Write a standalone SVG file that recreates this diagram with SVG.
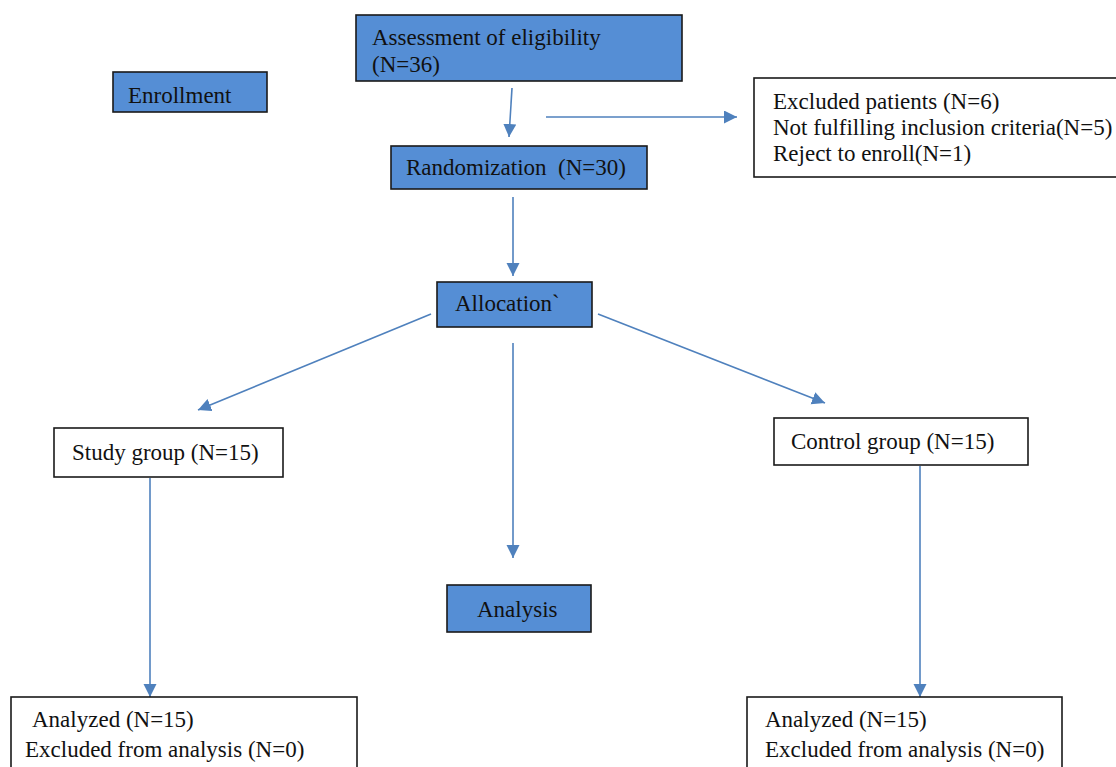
<svg xmlns="http://www.w3.org/2000/svg" width="1116" height="767" viewBox="0 0 1116 767">
<defs>
<style>
.blue{fill:#558ED5;stroke:#1a1a1a;stroke-width:1.6}
.white{fill:#ffffff;stroke:#1a1a1a;stroke-width:1.6}
.t{font-family:'Liberation Serif','DejaVu Serif',serif;font-size:23px;fill:#111}
.conn{stroke:#4F81BD;stroke-width:1.6;fill:none;marker-end:url(#arr)}
</style>
<marker id="arr" markerUnits="userSpaceOnUse" markerWidth="15" markerHeight="15" refX="13" refY="6.5" orient="auto">
<path d="M0,0 L13,6.5 L0,13 Z" fill="#4F81BD"/>
</marker>
</defs>
<rect width="1116" height="767" fill="#ffffff"/>
<g id="connectors">
<line class="conn" x1="512" y1="88" x2="509" y2="137"/>
<line class="conn" x1="546" y1="117" x2="737" y2="117"/>
<line class="conn" x1="513" y1="197" x2="513" y2="276"/>
<line class="conn" x1="431" y1="314" x2="198" y2="410"/>
<line class="conn" x1="513" y1="343" x2="513" y2="558"/>
<line class="conn" x1="598" y1="314" x2="825" y2="403"/>
<line class="conn" x1="150" y1="478" x2="150" y2="697"/>
<line class="conn" x1="920" y1="466" x2="920" y2="697"/>
</g>
<g id="enrollment">
<rect class="blue" x="113" y="72" width="154" height="40"/>
<text class="t" x="128" y="103">Enrollment</text>
</g>
<g id="assessment">
<rect class="blue" x="356" y="15" width="326" height="66"/>
<text class="t" x="372" y="45">Assessment of eligibility</text>
<text class="t" x="372" y="72">(N=36)</text>
</g>
<g id="excluded">
<rect class="white" x="754" y="78" width="380" height="99"/>
<text class="t" x="773" y="109">Excluded patients (N=6)</text>
<text class="t" x="773" y="135">Not fulfilling inclusion criteria(N=5)</text>
<text class="t" x="773" y="161">Reject to enroll(N=1)</text>
</g>
<g id="randomization">
<rect class="blue" x="391" y="146" width="256" height="43"/>
<text class="t" x="406" y="175" xml:space="preserve">Randomization  (N=30)</text>
</g>
<g id="allocation">
<rect class="blue" x="437" y="282" width="155" height="45"/>
<text class="t" x="455" y="311">Allocation`</text>
</g>
<g id="study-group">
<rect class="white" x="54" y="428" width="229" height="49"/>
<text class="t" x="72" y="460">Study group (N=15)</text>
</g>
<g id="control-group">
<rect class="white" x="774" y="418" width="254" height="47"/>
<text class="t" x="791" y="449">Control group (N=15)</text>
</g>
<g id="analysis">
<rect class="blue" x="447" y="585" width="144" height="47"/>
<text class="t" x="477" y="617">Analysis</text>
</g>
<g id="analyzed-study">
<rect class="white" x="11" y="697" width="346" height="90"/>
<text class="t" x="32" y="727">Analyzed (N=15)</text>
<text class="t" x="25" y="757">Excluded from analysis (N=0)</text>
</g>
<g id="analyzed-control">
<rect class="white" x="747" y="697" width="315" height="90"/>
<text class="t" x="765" y="727">Analyzed (N=15)</text>
<text class="t" x="765" y="757">Excluded from analysis (N=0)</text>
</g>
</svg>
